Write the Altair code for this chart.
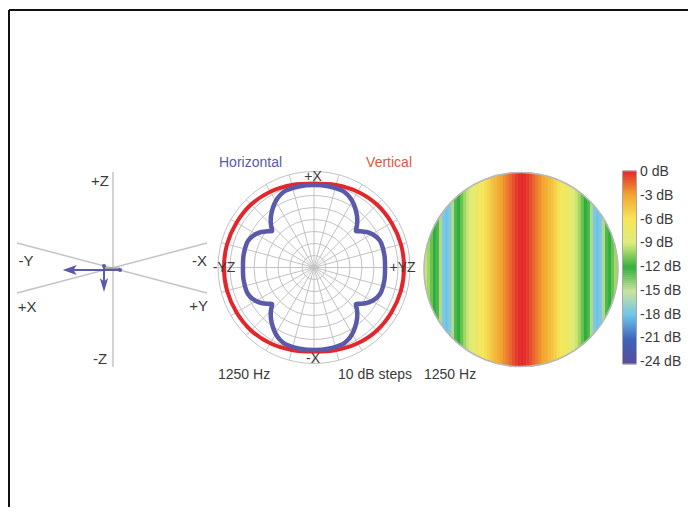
import math
import altair as alt
import pandas as pd

# ---------------- data ----------------
diagram_labels = ["+Z", "-Z", "-Y", "+X", "-X", "+Y"]
polar_titles = ["Horizontal", "Vertical"]
polar_axis_labels = ["+X", "-X", "-YZ", "+YZ"]
footer_labels = ["1250 Hz", "10 dB steps", "1250 Hz"]

# polar grid: rings every 10 dB, spokes every 15 degrees
ring_db = [0, -10, -20, -30, -40, -50, -60, -70]
spoke_deg = list(range(0, 360, 15))

# Horizontal response, one quadrant (angle from +X, deg) - mirrored to full circle
h_angles = [0, 10, 20, 25, 30, 35, 40, 45, 49, 52, 56, 60, 65, 70, 80, 90]
h_db = [-11.2, -11.2, -11.7, -13.3, -16.2, -20.0, -24.2, -29.2, -33.7,
        -30.8, -27.1, -24.2, -21.7, -20.4, -20.4, -20.8]
# Vertical response, one quadrant
v_angles = [0, 15, 30, 45, 60, 75, 90]
v_db = [-10.0, -8.8, -7.1, -5.8, -5.4, -5.0, -5.0]

# Balloon (disc) level across the horizontal position, centre -> edge (fraction of radius)
heat_u = [i / 32 for i in range(33)]
heat_db = [0.0, -0.2, -0.5, -1.0, -1.5, -2.0, -2.5, -3.0, -3.4, -3.9, -4.4,
           -5.0, -5.6, -6.1, -6.6, -7.2, -7.9, -8.6, -9.3, -10.0, -11.0,
           -12.0, -12.5, -14.5, -17.5, -18.0, -17.5, -14.5, -12.5, -12.0,
           -11.0, -10.0, -9.3]

colorbar_ticks = [0, -3, -6, -9, -12, -15, -18, -21, -24]
color_stop_db = [-24, -21, -18, -15, -12, -9, -6, -3, 0]
color_stop_hex = ["#5a4c9e", "#3d64b8", "#6fc4ec", "#c9e39c", "#2fae3c",
                  "#dcec7a", "#f6e65a", "#f2a530", "#e2262c"]

# ---------------- layout (page pixel coordinates) ----------------
FONT = "Liberation Sans, Arial, sans-serif"
FS = 14
TXT = "#3a3a3a"
BLUE = "#5b5aa9"
RED = "#e3262b"
GRID = "#c2c2c2"

X = alt.X("x:Q", scale=alt.Scale(domain=[8, 688], nice=False, zero=False), axis=None)
Y = alt.Y("y:Q", scale=alt.Scale(domain=[8, 507], nice=False, zero=False, reverse=True), axis=None)
X2 = alt.X2("x2:Q")
Y2 = alt.Y2("y2:Q")
CSCALE = alt.Scale(domain=color_stop_db, range=color_stop_hex, interpolate="rgb")

layers = []


def rules(rows, color, width):
    df = pd.DataFrame(rows, columns=["x", "y", "x2", "y2"])
    return alt.Chart(df).mark_rule(color=color, strokeWidth=width).encode(x=X, y=Y, x2=X2, y2=Y2)


def texts(labels, pos, color=TXT, size=FS, align="center"):
    df = pd.DataFrame({"t": labels, "x": [p[0] for p in pos], "y": [p[1] for p in pos]})
    return alt.Chart(df).mark_text(font=FONT, fontSize=size, color=color, align=align,
                                   baseline="middle").encode(x=X, y=Y, text="t:N")


# ---- heat disc (drawn first, masked by a white ring) ----
HC = (521.0, 269.5)      # disc centre
HR = 97.0                # disc radius
PAT_X = 522.0            # centre of the level pattern
step = HR / 32
rows = []
for u, db in zip(heat_u, heat_db):
    d = u * HR
    for sgn in ([1] if u == 0 else [1, -1]):
        xc = PAT_X + sgn * d
        rows.append({"x": xc - step / 2 - 0.3, "x2": xc + step / 2 + 0.3,
                     "y": HC[1] - HR - 1, "y2": HC[1] + HR + 1, "db": db})
heat_df = pd.DataFrame(rows)
layers.append(alt.Chart(heat_df).mark_rect(strokeWidth=0).encode(
    x=X, x2=X2, y=Y, y2=Y2, color=alt.Color("db:Q", scale=CSCALE, legend=None)))
mask_w = 45
layers.append(alt.Chart(pd.DataFrame({"x": [HC[0]], "y": [HC[1]]})).mark_point(
    shape="circle", filled=False, stroke="white", strokeWidth=mask_w, opacity=1,
    size=(2 * (HR + 0.5 + mask_w / 2)) ** 2).encode(x=X, y=Y))
layers.append(alt.Chart(pd.DataFrame({"x": [HC[0]], "y": [HC[1]]})).mark_point(
    shape="circle", filled=False, stroke="#b8b8b8", strokeWidth=1.5, opacity=1,
    size=(2 * HR) ** 2).encode(x=X, y=Y))

# ---- colour bar ----
CB_X = (622.5, 636.5)
CB_Y0, CB_Y1 = 171.0, 364.0
n = 96
cb_rows = []
for i in range(n):
    db0 = -24 * i / n
    db1 = -24 * (i + 1) / n
    cb_rows.append({"x": CB_X[0], "x2": CB_X[1],
                    "y": CB_Y0 + (CB_Y1 - CB_Y0) * i / n - 0.3,
                    "y2": CB_Y0 + (CB_Y1 - CB_Y0) * (i + 1) / n + 0.3,
                    "db": (db0 + db1) / 2})
layers.append(alt.Chart(pd.DataFrame(cb_rows)).mark_rect(strokeWidth=0).encode(
    x=X, x2=X2, y=Y, y2=Y2, color=alt.Color("db:Q", scale=CSCALE, legend=None)))
layers.append(alt.Chart(pd.DataFrame([{"x": CB_X[0], "x2": CB_X[1], "y": CB_Y0, "y2": CB_Y1}]))
              .mark_rect(fillOpacity=0, stroke="#a8a8a8", strokeWidth=1).encode(x=X, x2=X2, y=Y, y2=Y2))
layers.append(texts([f"{t} dB" for t in colorbar_ticks],
                    [(640, 172 + (-t) * 7.92) for t in colorbar_ticks], align="left"))

# ---- frame ----
layers.append(rules([(9, 10, 688, 10), (9, 10, 9, 507)], "#111111", 2))

# ---- left axis diagram ----
layers.append(rules([(113, 172, 113, 367), (17, 243, 207, 293), (17, 293, 207, 243)], "#c4c4c4", 1.5))
layers.append(rules([(104, 268.5, 120, 268.5)], "#9a9a9a", 2))
layers.append(rules([(120, 270, 70, 270), (104, 266, 104, 282)], BLUE, 2))
layers.append(alt.Chart(pd.DataFrame({"x": [104, 120], "y": [266, 270]})).mark_point(
    filled=True, color=BLUE, opacity=1, size=18).encode(x=X, y=Y))
layers.append(alt.Chart(pd.DataFrame({"x": [69.7], "y": [270]})).mark_point(
    shape="M-1,0L1,-0.7L0.55,0L1,0.7Z", filled=True, color=BLUE, opacity=1, size=196).encode(x=X, y=Y))
layers.append(alt.Chart(pd.DataFrame({"x": [104], "y": [285]})).mark_point(
    shape="M0,1L-0.6,-1L0,-0.5L0.6,-1Z", filled=True, color=BLUE, opacity=1, size=196).encode(x=X, y=Y))
layers.append(texts(diagram_labels,
                    [(100, 181), (100, 359), (26, 261), (27, 307), (199.5, 261), (198.5, 306)],
                    size=15))

# ---- polar plot ----
PC = (314.0, 267.5)
R_OUT = 96.0
PX_PER_DB = 1.2


def rad(db):
    return R_OUT + (db - ring_db[0]) * PX_PER_DB


ring_df = pd.DataFrame({"x": [PC[0]] * len(ring_db), "y": [PC[1]] * len(ring_db),
                        "s": [(2 * rad(d)) ** 2 for d in ring_db]})
layers.append(alt.Chart(ring_df).mark_point(shape="circle", filled=False, stroke=GRID,
                                            strokeWidth=1, opacity=1).encode(
    x=X, y=Y, size=alt.Size("s:Q", scale=None, legend=None)))
sp = [(PC[0], PC[1], PC[0] + R_OUT * math.sin(math.radians(a)),
       PC[1] - R_OUT * math.cos(math.radians(a))) for a in spoke_deg]
layers.append(rules(sp, GRID, 1))


def full_curve(angles, dbs):
    q = list(zip(angles, dbs))
    pts = []
    pts += [(a, d) for a, d in q]
    pts += [(180 - a, d) for a, d in reversed(q)]
    pts += [(180 + a, d) for a, d in q]
    pts += [(360 - a, d) for a, d in reversed(q)]
    seen = set()
    rows = []
    for a, d in pts:
        key = round(a % 360, 6)
        if key in seen:
            continue
        seen.add(key)
        r = rad(d)
        rows.append({"i": len(rows), "x": PC[0] + r * math.sin(math.radians(a)),
                     "y": PC[1] - r * math.cos(math.radians(a))})
    return pd.DataFrame(rows)


layers.append(alt.Chart(full_curve(v_angles, v_db)).mark_line(
    color=RED, strokeWidth=4, interpolate="cardinal-closed").encode(x=X, y=Y, order="i:Q"))
layers.append(alt.Chart(full_curve(h_angles, h_db)).mark_line(
    color=BLUE, strokeWidth=4.5, interpolate="cardinal-closed", tension=0.3).encode(x=X, y=Y, order="i:Q"))

layers.append(texts(polar_axis_labels, [(313, 177), (313, 359), (224, 268), (402.5, 268)]))
layers.append(texts([polar_titles[0]], [(219, 163)], color="#5a5aa8", align="left"))
layers.append(texts([polar_titles[1]], [(412, 163)], color="#e5553f", align="right"))
layers.append(texts([footer_labels[0]], [(218, 375)], align="left"))
layers.append(texts([footer_labels[1]], [(412, 375)], align="right"))
layers.append(texts([footer_labels[2]], [(424, 375)], align="left"))

chart = alt.layer(*layers).properties(
    width=680, height=499, padding=0, background="white",
    autosize=alt.AutoSizeParams(type="none"),
).configure_view(stroke=None)

chart.save("out.html", embed_options={"renderer": "svg", "actions": False})
